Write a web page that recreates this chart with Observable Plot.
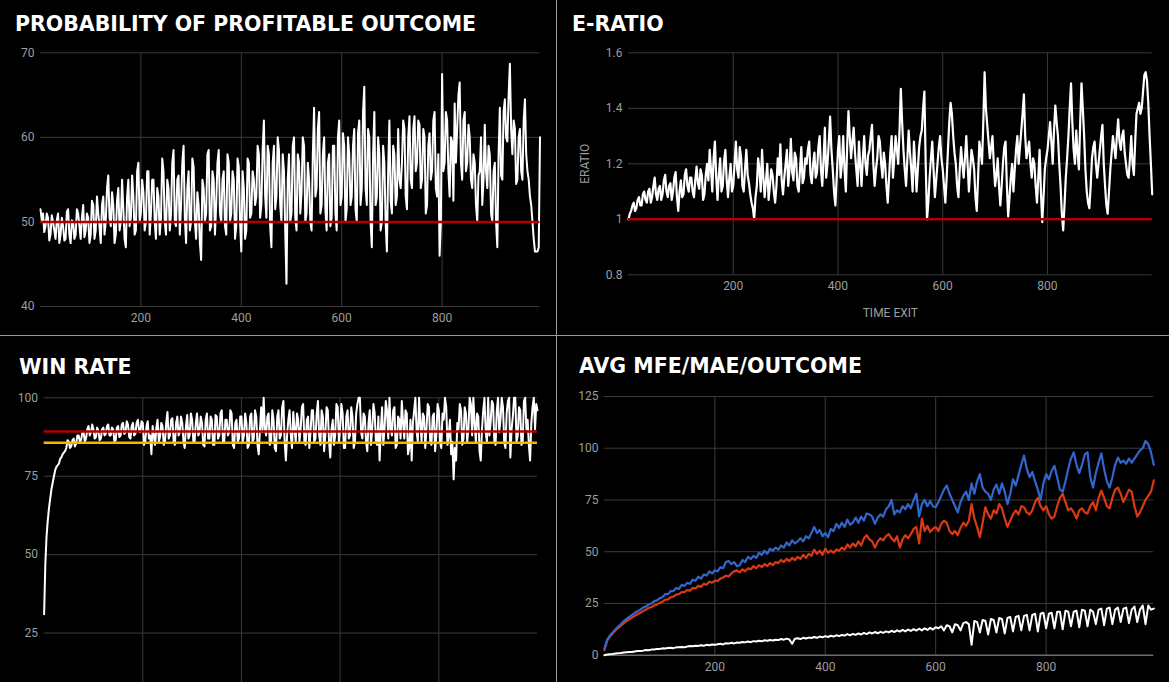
<!DOCTYPE html>
<html>
<head>
<meta charset="utf-8">
<script src="https://cdn.jsdelivr.net/npm/d3@7"></script>
<script src="https://cdn.jsdelivr.net/npm/@observablehq/plot@0.6"></script>
<style>
html, body { margin: 0; padding: 0; background: #000; }
#root { position: relative; width: 1169px; height: 682px; overflow: hidden; background: #000; }
.panel { position: absolute; overflow: hidden; }
.panel svg { position: absolute; left: 0; top: 0; }
.title { position: absolute; font-family: "DejaVu Sans", sans-serif; font-weight: bold; font-size: 20.5px; line-height: 20.5px; color: #fff; white-space: nowrap; z-index: 2; }
.divider { position: absolute; background: #9a9a9a; z-index: 3; }
</style>
</head>
<body>
<div id="root"></div>
<script>
// ---------- DATA ----------
const xTicks = [200, 400, 600, 800];

// Probability of profitable outcome (time exit 0..995, step 2.5)
const probStart = 0, probStep = 2.5;
const probability = [51.5, 50.2,
  51, 48.8, 49.5, 51, 50.5, 47.8, 48.5, 50.8, 50, 49, 48, 50.2, 51, 47.5, 48.5, 50.5, 49.5, 47.8, 48, 51.2,
  51.5, 48.5, 47.5, 50.2, 50, 48, 48.5, 51.5, 51, 49.5, 48, 50.5, 52, 48.2, 49, 51, 50.5, 47.5, 48.5, 52.5,
  52, 48, 49, 53, 51, 49.5, 47.5, 52, 53, 48.5, 50, 54, 55.5, 50.5, 49.5, 53.5, 52, 47.5, 48.5, 52.5,
  54, 49, 50, 55, 51.5, 48, 47, 53, 55, 49.5, 50.5, 55.5, 53, 48.5, 49, 56, 57, 50, 51, 55,
  53.5, 49, 50, 56, 56, 48.5, 51, 55, 55, 50, 48, 54, 53, 48.5, 50.5, 57.5, 56, 50, 48.5, 55,
  54, 49, 51, 57, 58.5, 50, 49.5, 55, 55.5, 48.5, 52, 57, 59, 50.5, 47.5, 54, 56, 49, 50, 57.5,
  56.5, 50, 48, 53.5, 52, 47.5, 45.5, 55, 54, 50, 51, 58, 58.5, 49, 49.5, 56, 55, 48.5, 52, 57,
  58.5, 51, 50, 55, 56, 49.5, 48.5, 58, 57, 50, 51, 56, 55, 48, 49.5, 57.5, 56.5, 50, 46.5, 56,
  54, 48, 49, 57.5, 57, 50.5, 51, 56, 55, 52, 53, 59, 58, 50.5, 52, 58.5, 62, 53, 50.5, 59,
  58, 49.5, 47, 57, 59, 51.5, 53, 60, 58.5, 52, 50, 58, 56, 49, 42.7, 55, 58, 50, 51, 59,
  60, 50.5, 49, 58, 57, 51, 53.5, 60, 59, 50, 51, 57, 55, 50, 49, 58, 63.5, 53, 54, 61,
  63, 51, 52, 58, 60, 51.5, 49, 57, 58, 49.5, 50.5, 59, 59, 51, 49, 60, 62, 52, 53, 60.5,
  59, 50, 51.5, 60, 58, 52, 53, 59, 61, 51.5, 50, 60.5, 62, 52, 54, 63, 66, 54, 52, 61,
  60, 50, 47, 58, 63, 52, 53, 60, 58, 49, 50, 59, 57, 50, 46.5, 56, 62, 52.5, 51, 59,
  58, 52, 53, 61, 55, 54, 57, 62, 61, 53, 51.5, 60, 62.5, 55, 54, 61, 62.5, 56, 57, 62,
  61.5, 54, 55, 61, 60, 51, 52, 59, 60.5, 55, 56, 62, 63, 54, 53, 58, 46, 50, 67.5, 56,
  57, 63, 62, 56, 53, 60, 59.5, 52.5, 64, 57, 61, 65, 66.5, 57, 55, 62, 63, 56, 57, 61.5,
  60, 55, 54, 58, 57, 52, 50, 55.5, 56, 60, 52, 55, 61.5, 56, 54, 59, 58, 51, 50, 56,
  57, 50, 47, 58, 63.5, 55.5, 55, 63, 64.5, 60, 59.5, 65, 68.7, 61, 58, 62, 61, 54.5, 55, 60,
  61, 56, 55, 62, 64.5, 58, 56, 55, 53, 52, 50, 48, 46.5, 46.5, 46.5, 47, 60];
const probTicksY = [40, 50, 60, 70];
const probReference = 50;

// E-ratio (time exit 0..1000, step 2.5)
const eratioStart = 0, eratioStep = 2.5;
const eratio = [
  1.00, 1.02, 1.03, 1.05, 1.06, 1.03, 1.04, 1.07, 1.08, 1.05, 1.05, 1.09, 1.10, 1.07, 1.06, 1.10, 1.11, 1.06, 1.08, 1.12,
  1.15, 1.09, 1.07, 1.11, 1.12, 1.07, 1.09, 1.14, 1.16, 1.10, 1.08, 1.12, 1.13, 1.07, 1.10, 1.15, 1.17, 1.08, 1.03, 1.10,
  1.14, 1.08, 1.09, 1.16, 1.18, 1.12, 1.10, 1.15, 1.15, 1.10, 1.08, 1.14, 1.19, 1.13, 1.11, 1.18, 1.16, 1.07, 1.09, 1.16,
  1.20, 1.14, 1.25, 1.18, 1.10, 1.22, 1.28, 1.15, 1.07, 1.16, 1.22, 1.10, 1.12, 1.21, 1.25, 1.14, 1.08, 1.15, 1.20, 1.10,
  1.12, 1.20, 1.28, 1.18, 1.15, 1.26, 1.22, 1.12, 1.10, 1.18, 1.25, 1.16, 1.13, 1.09, 1.06, 1.04, 1.00, 1.08, 1.12, 1.22,
  1.18, 1.10, 1.25, 1.15, 1.08, 1.14, 1.20, 1.07, 1.12, 1.18, 1.16, 1.10, 1.06, 1.12, 1.22, 1.16, 1.27, 1.14, 1.09, 1.15,
  1.20, 1.25, 1.12, 1.18, 1.29, 1.17, 1.14, 1.24, 1.22, 1.12, 1.10, 1.18, 1.26, 1.13, 1.15, 1.22, 1.20, 1.25, 1.28, 1.16,
  1.13, 1.20, 1.24, 1.15, 1.17, 1.26, 1.30, 1.18, 1.12, 1.22, 1.33, 1.15, 1.20, 1.28, 1.37, 1.25, 1.18, 1.10, 1.05, 1.15,
  1.25, 1.30, 1.15, 1.20, 1.30, 1.18, 1.10, 1.26, 1.39, 1.30, 1.22, 1.28, 1.33, 1.24, 1.18, 1.12, 1.28, 1.20, 1.12, 1.22,
  1.30, 1.20, 1.16, 1.23, 1.25, 1.30, 1.34, 1.20, 1.12, 1.18, 1.22, 1.30, 1.28, 1.20, 1.15, 1.24, 1.20, 1.12, 1.06, 1.15,
  1.24, 1.30, 1.15, 1.22, 1.30, 1.25, 1.20, 1.32, 1.47, 1.35, 1.25, 1.18, 1.12, 1.22, 1.32, 1.24, 1.18, 1.10, 1.28, 1.20,
  1.10, 1.18, 1.26, 1.30, 1.32, 1.40, 1.46, 1.20, 1.00, 1.06, 1.15, 1.22, 1.28, 1.18, 1.08, 1.14, 1.20, 1.26, 1.30, 1.22,
  1.18, 1.12, 1.06, 1.15, 1.25, 1.35, 1.42, 1.38, 1.30, 1.24, 1.20, 1.12, 1.08, 1.18, 1.26, 1.20, 1.15, 1.22, 1.30, 1.20,
  1.10, 1.18, 1.25, 1.22, 1.18, 1.08, 1.03, 1.15, 1.28, 1.24, 1.20, 1.35, 1.53, 1.40, 1.34, 1.28, 1.22, 1.26, 1.30, 1.20,
  1.12, 1.16, 1.22, 1.12, 1.05, 1.12, 1.20, 1.26, 1.28, 1.12, 1.01, 1.08, 1.15, 1.20, 1.10, 1.18, 1.25, 1.30, 1.20, 1.26,
  1.32, 1.38, 1.45, 1.30, 1.22, 1.25, 1.28, 1.20, 1.15, 1.22, 1.20, 1.12, 1.06, 1.15, 1.25, 1.10, 0.99, 1.08, 1.18, 1.22,
  1.25, 1.30, 1.35, 1.28, 1.20, 1.32, 1.41, 1.35, 1.30, 1.20, 1.12, 1.02, 0.96, 1.05, 1.15, 1.22, 1.30, 1.40, 1.49, 1.35,
  1.25, 1.20, 1.32, 1.24, 1.18, 1.35, 1.49, 1.40, 1.30, 1.18, 1.10, 1.06, 1.04, 1.12, 1.22, 1.26, 1.28, 1.20, 1.15, 1.20,
  1.25, 1.30, 1.34, 1.20, 1.12, 1.05, 1.02, 1.10, 1.18, 1.24, 1.30, 1.26, 1.22, 1.30, 1.36, 1.28, 1.25, 1.30, 1.32, 1.24,
  1.20, 1.16, 1.15, 1.22, 1.30, 1.20, 1.16, 1.28, 1.38, 1.40, 1.42, 1.38, 1.40, 1.46, 1.52, 1.53, 1.50, 1.42, 1.30, 1.20, 1.09];
const eratioTicksY = [0.8, 1, 1.2, 1.4, 1.6];
const eratioReference = 1;

// Win rate (time exit 0..1000, step 2.5)
const winStart = 0, winStep = 2.5;
const winRate = [
  31, 47, 56, 61, 65, 68, 71, 73, 75, 77, 78, 78.5, 79, 80.5, 81, 82, 82.5, 83, 84, 86.5,
  86, 84, 84.5, 86.5, 87, 84.5, 85.5, 88, 88, 86, 86.5, 89, 89, 86, 87, 90, 91, 88, 89, 91.5,
  90, 87, 87.5, 90.5, 89.5, 86.5, 87, 90, 90.5, 88, 88.5, 91, 91.5, 88, 88, 90.5, 90, 86, 86.5, 90.5,
  91, 87.5, 88, 91.5, 92, 88.5, 89, 92.5, 91.5, 87.5, 87, 91, 92, 88, 88.5, 92, 93, 89.5, 89, 92.5,
  92, 85, 86, 91, 92.5, 87, 88, 82, 91, 88, 85, 90.5, 93, 86, 87.5, 92, 91, 85, 86, 92,
  95.5, 87, 88, 93, 93.5, 86, 85, 92, 94, 88, 89, 94, 92, 86, 84, 91, 94.5, 87, 88, 95,
  93, 86, 86, 92, 95, 88, 89, 94, 92, 85, 84.5, 93, 95, 87, 87, 94, 93, 85, 85, 94.5,
  94, 87, 88, 95, 96, 86, 86, 93, 93, 88, 89, 96, 95, 85, 84, 92, 93, 86, 87, 94,
  94, 86, 88, 95, 92, 84, 85, 94, 95, 86, 87, 96, 94, 85, 82, 90, 97, 89, 100, 90,
  88, 94, 95, 85, 86, 96, 93, 84, 83, 94, 96, 87, 88, 97, 99, 86, 80, 88, 93, 96,
  88, 84, 95.5, 90, 86, 95, 93, 86, 90, 97, 98, 86, 85, 93, 94, 84, 89, 96, 96, 86,
  87, 95, 99, 88, 85, 96, 94, 83, 88, 97, 96, 86, 81, 90, 93, 85, 88, 98, 97, 86,
  90, 98, 95, 84, 84, 94, 96, 87, 88, 97, 94, 84, 86, 95, 98, 100, 100, 89, 87, 95,
  94, 86, 83, 92, 96, 85, 90, 98, 95, 86, 85, 94, 80, 90, 97, 85, 90, 99, 96, 87,
  100, 90, 88, 96, 97, 84, 85, 94, 93, 87, 99, 92, 87, 96, 95, 82, 84, 93, 80, 92,
  96, 100, 89, 86, 100, 92, 86, 95, 94, 84, 90, 98, 97, 86, 85, 94, 95, 83, 88, 98,
  96, 86, 84, 95, 93, 100, 97, 85, 88, 93, 82, 86, 74, 84, 80, 92, 90, 98, 96, 85,
  87, 97, 95, 86, 90, 100, 98, 88, 100, 92, 86, 95, 94, 83, 80, 90, 96, 100, 89, 86,
  100, 88, 92, 99, 98, 86, 85, 96, 100, 89, 93, 100, 97, 86, 84, 95, 99, 100, 81, 90,
  94, 100, 100, 86, 88, 97, 96, 85, 86, 99, 100, 90, 93, 85, 80, 92, 97, 100, 90, 98, 96];
const winTicksY = [25, 50, 75, 100];
const winRedLevel = 89.25;
const winGoldLevel = 85.65;

// Avg MFE / MAE / Outcome (time exit 0..995, step 5)
const avgStart = 0, avgStep = 5;
const mfe = [
  3, 7.5, 9.5, 11, 12.5, 13.8, 15, 16.5, 17.5, 18.5,
  19.5, 20.5, 21.2, 22, 23, 23.5, 24.5, 25, 26, 26.5,
  27.5, 28, 29.5, 29.5, 31, 31, 32.5, 32, 34, 33.5,
  35, 34.5, 36.5, 36, 38, 37, 39, 38.5, 40.5, 39.5,
  41, 40.5, 42.5, 42, 45, 45.5, 44, 45, 43, 43.5,
  46, 45, 47.5, 46.5, 48, 47, 49.5, 48.5, 50.5, 49,
  51.5, 50.5, 52, 51, 53, 52, 54.5, 53, 55.5, 54,
  55, 56.5, 55, 57.5, 56.5, 59, 62, 59, 60.5, 57.5,
  59, 57, 61, 60, 63.5, 61.5, 64, 62, 65.5, 63,
  64, 66.5, 64, 67, 65, 68.5, 68, 67, 63.5, 66.5,
  68, 67, 70.5, 72, 75, 68, 70, 69, 72, 70.5,
  73, 71, 75, 78, 67, 73, 75, 72, 74.5, 72,
  71.5, 74, 77, 80, 82, 78, 75, 72, 69, 74,
  77, 79, 75, 83, 78, 84, 87.5, 81, 79, 78,
  75, 80, 82.5, 78, 83, 79, 73, 78, 85, 82,
  87, 92, 96.5, 90, 86, 88.5, 84, 80, 75, 83,
  87.5, 85, 89, 91.5, 86, 80, 79, 84, 90, 95,
  98, 92, 88, 92, 97, 98, 86, 81, 88, 93,
  97.5, 90, 84, 81, 86, 92, 95.5, 93, 94, 92.5,
  95, 93, 95, 97, 99, 100, 103.5, 102, 98, 92];
const mae = [
  2.5, 7, 9, 10.5, 12, 13.2, 14.3, 15.5, 16.5, 17.3,
  18.2, 19, 19.8, 20.5, 21.3, 22, 22.8, 23.3, 24, 24.5,
  25.3, 25.8, 26.8, 27, 28, 28.3, 29.3, 29.5, 30.5, 30.5,
  31.5, 31.2, 32.5, 32.3, 33.5, 33, 34.5, 34, 35.5, 35,
  36, 35.8, 37, 37.5, 38.5, 38, 39.5, 40.5, 41, 40,
  41.5, 40.5, 42, 41.5, 43, 42, 43.5, 42.5, 44, 43,
  44.5, 43.5, 45, 44.5, 46, 45, 46.5, 45.5, 47, 46,
  47.5, 46.5, 48.5, 47, 49, 48, 51, 49, 50.5, 48.5,
  51.5, 49.5, 50.5, 49.5, 51, 50.5, 52, 51, 53.5, 52,
  54, 52.5, 55, 53, 56.5, 58, 56, 55, 52, 55,
  56.5, 55.5, 57.5, 58.5, 56.5, 55, 57.5, 52, 56, 58,
  56.5, 58.5, 61, 62, 54, 66, 60, 62.5, 59.5, 61,
  62, 60, 63.5, 65, 64, 60, 58.5, 60, 58, 61.5,
  64, 62.5, 65, 73, 66, 62, 57, 64, 71.5, 68,
  66, 70, 68.5, 73, 71, 66, 62, 65, 68, 70,
  68, 72, 71.5, 69, 68, 70, 74, 76, 72, 70,
  72, 68, 66, 67, 72, 76, 78, 74, 70, 71,
  69, 66, 70, 71, 69, 68.5, 72, 74, 70, 76,
  79.5, 76, 72, 71, 76, 80, 81, 78, 74, 77,
  80, 79, 72, 67, 69, 72, 75, 77, 79, 84.5];
const outcome = [
  0, 0.3, 0.5, 0.6, 0.8, 1, 1.1, 1.3, 1.4, 1.5,
  1.6, 1.8, 2, 2, 2.2, 2.5, 2.4, 2.7, 2.8, 3,
  3, 3.3, 3.2, 3.5, 3.6, 3.4, 3.8, 3.9, 4, 3.8,
  4.2, 4.4, 4.3, 4.6, 4.5, 4.8, 4.6, 5, 4.8, 5.2,
  5, 5.3, 5.5, 5.2, 5.8, 5.6, 6, 5.7, 6.1, 6,
  6.4, 6.2, 6.6, 6.3, 6.8, 6.6, 7, 6.7, 7.2, 7,
  7.3, 7.1, 7.5, 7.3, 7.8, 7.5, 8, 7.6, 5.5, 8,
  8.2, 7.8, 8.4, 8.1, 8.5, 8.3, 8.8, 8.4, 9, 8.6,
  9.2, 8.8, 9.4, 9, 9.6, 9.2, 9.8, 9.5, 10.2, 9.6,
  10.3, 9.8, 10.5, 10, 10.8, 10.2, 11, 10.5, 11.2, 10.6,
  11.3, 10.8, 11.5, 11, 11.8, 11.2, 12, 11.4, 12.2, 11.5,
  12.4, 11.7, 12.6, 11.9, 12.8, 12, 13, 12.2, 13.2, 12.4,
  13.5, 13, 14, 12, 14.5, 14, 11, 15, 14.5, 12,
  15.5, 16, 15, 5, 16.5, 16, 11, 17, 16.5, 10,
  17.5, 17, 11, 18, 17.5, 10.5, 18, 18.5, 11.5, 18.5,
  19, 12, 19, 19.5, 12, 19.5, 20, 11.5, 20, 20.5,
  13, 20, 20.5, 13, 21, 21, 12.5, 21.5, 21, 14,
  21, 21.5, 13.5, 22, 21.5, 14, 22, 21, 15, 22,
  22.5, 14.5, 22.5, 23, 15, 22, 23, 16, 22.5, 23,
  15.5, 22, 23.5, 16, 22, 24, 15, 24, 22, 22.5];
const avgTicksY = [0, 25, 50, 75, 100, 125];

const titles = ["PROBABILITY OF PROFITABLE OUTCOME", "E-RATIO", "WIN RATE", "AVG MFE/MAE/OUTCOME"];
const colors = { line: "#ffffff", ref: "#b00000", gold: "#f4b400", mfe: "#3366cc", mae: "#dc3912", grid: "#3a3a3a", text: "#9e9e9e" };

// ---------- BUILD ----------
const toRows = (arr, start, step) => arr.map((v, i) => ({ t: start + i * step, v }));
const root = document.getElementById("root");

function makePanel(box, title, titlePos) {
  const div = document.createElement("div");
  div.className = "panel";
  Object.assign(div.style, { left: box.left + "px", top: box.top + "px", width: box.width + "px", height: box.height + "px" });
  const t = document.createElement("div");
  t.className = "title";
  t.textContent = title;
  t.style.left = titlePos[0] + "px";
  t.style.top = titlePos[1] + "px";
  div.appendChild(t);
  root.appendChild(div);
  return div;
}

const fmt = (d) => String(d);
function basePlot(o) {
  const axisMarks = [
    Plot.axisY(o.yTicks, { tickSize: 0, tickPadding: 6, tickFormat: fmt, label: o.yLabel ?? null, labelAnchor: "center", labelOffset: o.yLabelOffset ?? 40, labelArrow: "none" })
  ];
  if (o.showX !== false) {
    axisMarks.push(Plot.axisX(xTicks, { tickSize: 0, tickPadding: 7, tickFormat: fmt, label: o.xLabel ?? null, labelAnchor: "center", labelOffset: o.xLabelOffset ?? 30, labelArrow: "none" }));
  }
  return Plot.plot({
    width: o.width, height: o.height,
    marginLeft: o.ml, marginRight: o.mr, marginTop: o.mt, marginBottom: o.mb,
    style: { background: "transparent", color: colors.text, fontFamily: "Roboto, sans-serif", fontSize: "12px" },
    x: { domain: o.xDomain, axis: null },
    y: { domain: o.yDomain, axis: null },
    marks: [
      Plot.gridY(o.yTicks, { stroke: colors.grid, strokeOpacity: 1, strokeWidth: 1 }),
      Plot.gridX(xTicks, { stroke: colors.grid, strokeOpacity: 1, strokeWidth: 1 }),
      ...axisMarks,
      ...o.marks
    ]
  });
}

// Panel 1
const p1 = makePanel({ left: 0, top: 0, width: 556, height: 336 }, titles[0], [15, 14.4]);
p1.appendChild(basePlot({
  width: 556, height: 336, ml: 40, mr: 16.5, mt: 52.3, mb: 30,
  xDomain: [0, 995], yDomain: [40, 70], yTicks: probTicksY,
  marks: [
    Plot.line(toRows(probability, probStart, probStep), { x: "t", y: "v", stroke: colors.line, strokeWidth: 2 }),
    Plot.ruleY([probReference], { stroke: colors.ref, strokeWidth: 2.5 })
  ]
}));

// Panel 2
const p2 = makePanel({ left: 556, top: 0, width: 613, height: 336 }, titles[1], [16, 13.7]);
p2.appendChild(basePlot({
  width: 613, height: 336, ml: 72, mr: 17.3, mt: 52.3, mb: 61.7,
  xDomain: [0, 1000], yDomain: [0.8, 1.6], yTicks: eratioTicksY,
  yLabel: "ERATIO", yLabelOffset: 48, xLabel: "TIME EXIT", xLabelOffset: 42,
  marks: [
    Plot.line(toRows(eratio, eratioStart, eratioStep), { x: "t", y: "v", stroke: colors.line, strokeWidth: 2.2 }),
    Plot.ruleY([eratioReference], { stroke: colors.ref, strokeWidth: 2.5 })
  ]
}));

// Panel 3 (its x-axis labels fall below the visible area, as in the reference)
const p3 = makePanel({ left: 0, top: 336, width: 557, height: 346 }, titles[2], [19, 20.5]);
p3.appendChild(basePlot({
  width: 557, height: 405, ml: 43.6, mr: 20, mt: 61.3, mb: 30,
  xDomain: [0, 1000], yDomain: [0, 100], yTicks: winTicksY, showX: false,
  marks: [
    Plot.line(toRows(winRate, winStart, winStep), { x: "t", y: "v", stroke: colors.line, strokeWidth: 2 }),
    Plot.ruleY([winRedLevel], { stroke: colors.ref, strokeWidth: 2.5 }),
    Plot.ruleY([winGoldLevel], { stroke: colors.gold, strokeWidth: 2.5 })
  ]
}));

// Panel 4
const p4 = makePanel({ left: 557, top: 336, width: 612, height: 346 }, titles[3], [22, 20]);
p4.appendChild(basePlot({
  width: 612, height: 346, ml: 46.9, mr: 15.7, mt: 60, mb: 27.3,
  xDomain: [0, 995], yDomain: [0, 125], yTicks: avgTicksY,
  marks: [
    Plot.ruleY([0], { stroke: "#8a8a8a", strokeWidth: 1 }),
    Plot.line(toRows(outcome, avgStart, avgStep), { x: "t", y: "v", stroke: colors.line, strokeWidth: 2 }),
    Plot.line(toRows(mae, avgStart, avgStep), { x: "t", y: "v", stroke: colors.mae, strokeWidth: 2.2 }),
    Plot.line(toRows(mfe, avgStart, avgStep), { x: "t", y: "v", stroke: colors.mfe, strokeWidth: 2.2 })
  ]
}));

// Panel dividers
const vline = document.createElement("div");
vline.className = "divider";
Object.assign(vline.style, { left: "556px", top: "0px", width: "1px", height: "682px" });
root.appendChild(vline);
const hline = document.createElement("div");
hline.className = "divider";
Object.assign(hline.style, { left: "0px", top: "335px", width: "1169px", height: "1px" });
root.appendChild(hline);
</script>
</body>
</html>
